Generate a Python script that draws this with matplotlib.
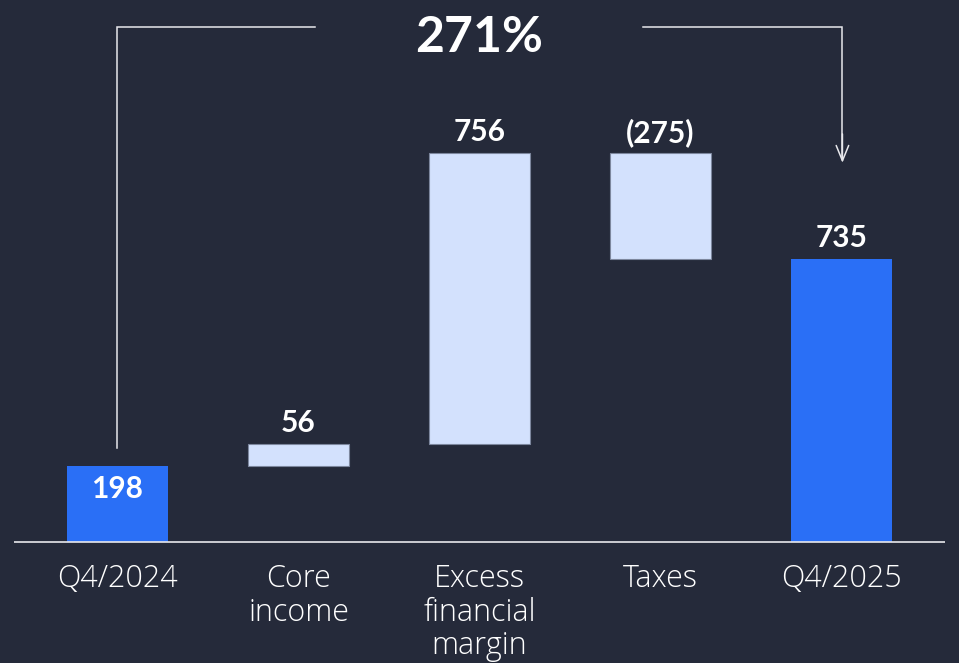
import matplotlib
matplotlib.use("Agg")
import matplotlib.pyplot as plt

categories = ["Q4/2024", "Core\nincome", "Excess\nfinancial\nmargin", "Taxes", "Q4/2025"]
values = [198, 56, 756, -275, 735]
kinds = ["total", "delta", "delta", "delta", "total"]
value_labels = ["198", "56", "756", "(275)", "735"]
growth_label = "271%"

BG = "#252a3a"
BLUE = "#2a6ff6"
LIGHT = "#d3e1fd"
LINE = "#e8e8ec"

fig = plt.figure(figsize=(9.59, 6.63), dpi=100, facecolor=BG)
ax = fig.add_axes([0, 0, 1, 1])
ax.set_facecolor(BG)
ax.set_xlim(-0.649, 4.649)
ax.set_ylim(-314.3, 1407.8)
ax.axis("off")

width = 0.558
running = 0
tops = []
for i, (v, k) in enumerate(zip(values, kinds)):
    if k == "total":
        bottom, height = 0, v
        running = v
        ax.bar(i, height, bottom=bottom, width=width, color=BLUE, edgecolor="none", zorder=2)
        top = v
    else:
        bottom = running if v >= 0 else running + v
        height = abs(v)
        ax.bar(i, height, bottom=bottom, width=width, color=LIGHT, edgecolor="#7d879e",
               linewidth=0.8, zorder=2)
        top = bottom + height
        running += v
    tops.append(top)

# value labels
for i, (lab, top) in enumerate(zip(value_labels, tops)):
    off = -16.5 if i == 0 else 15
    ax.annotate(lab, xy=(i, top), xytext=(0, off), textcoords="offset points",
                ha="center", va="center", color="white", fontsize=21.5,
                fontweight="bold", family=["Lato", "DejaVu Sans"], zorder=3)

# baseline
ax.plot([-0.572, 4.572], [0, 0], color=LINE, lw=1.2, zorder=3, solid_capstyle="butt")

# category labels
for i, c in enumerate(categories):
    ax.text(i, -55, c, ha="center", va="top", color="white", fontsize=22,
            fontweight="light", family=["Open Sans", "DejaVu Sans"], linespacing=1.06,
            multialignment="center")

# growth bracket
ytop = 1338
ax.plot([0, 0, 1.091], [values[0] + 46, ytop, ytop], color=LINE, lw=1.1,
        solid_joinstyle="miter")
ax.plot([2.903, 4.005, 4.005], [ytop, ytop, 995], color=LINE, lw=1.1,
        solid_joinstyle="miter")
ax.annotate("", xy=(4.005, 985), xytext=(4.005, 1060),
            arrowprops=dict(arrowstyle="->,head_length=1.1,head_width=0.45",
                            color=LINE, lw=1.1, shrinkA=0, shrinkB=0))
ax.text(2.0, 1310, growth_label, ha="center", va="center", color="white",
        fontsize=36, fontweight="bold", family=["Lato", "DejaVu Sans"])

fig.savefig("out.png", dpi=100, facecolor=BG)
